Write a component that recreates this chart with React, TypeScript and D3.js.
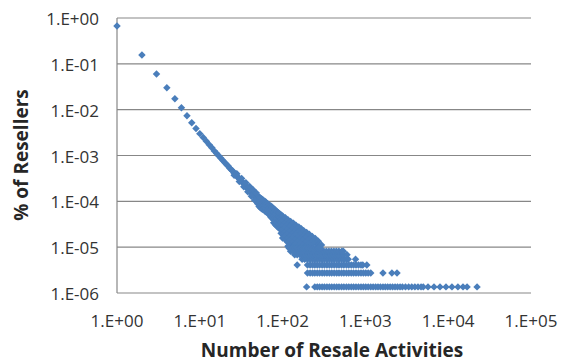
import React from 'react';
import * as d3 from 'd3';

// Axis ticks (decades)
const xTicks = [1, 10, 100, 1000, 10000, 100000];
const yTicks = [1, 0.1, 0.01, 0.001, 0.0001, 0.00001, 0.000001];

// Head of the distribution: one point per activity count
const headX = [1, 2, 3, 4, 5, 6, 7, 8, 9, 10, 11, 12, 13, 14, 15, 16, 17, 18, 19, 20];
const headY = [0.67, 0.155, 0.06, 0.03, 0.0174, 0.011, 0.0074, 0.0052, 0.0039, 0.003,
  0.00246, 0.00204, 0.00172, 0.00147, 0.00126, 0.0011, 0.00097, 0.00087, 0.00078, 0.0007];

// Band 21..50
const bandX = [21, 22, 23, 24, 25, 26, 27, 28, 29, 30, 31, 32, 33, 34, 35, 36, 37, 38, 39, 40,
  41, 42, 43, 44, 45, 46, 47, 48, 49, 50];
const bandY = [6.4e-4, 5.9e-4, 5.3e-4, 4.9e-4, 4.6e-4, 4.1e-4, 3.9e-4, 3.5e-4, 3.4e-4, 3.1e-4,
  2.95e-4, 2.7e-4, 2.6e-4, 2.4e-4, 2.35e-4, 2.1e-4, 2.05e-4, 1.85e-4, 1.9e-4, 1.7e-4,
  1.65e-4, 1.6e-4, 1.45e-4, 1.5e-4, 1.35e-4, 1.4e-4, 1.2e-4, 1.3e-4, 1.1e-4, 1.15e-4];
const band2X = [26, 28, 30, 32, 34, 36, 38, 40, 42, 44, 46, 48, 50];
const band2Y = [3.7e-4, 4.02e-4, 2.72e-4, 3.15e-4, 2.07e-4, 2.55e-4, 1.62e-4, 2.11e-4, 1.29e-4, 1.78e-4, 1.05e-4, 1.53e-4, 8.9e-5];

// Widening cloud 52..295: several values per activity count
const colX = [52, 54, 56, 58, 61, 63, 66, 69, 72, 75, 78, 82, 85, 89, 92, 96,
  100, 108, 116, 125, 135, 145, 157, 168, 180, 195, 210, 228, 248, 270, 295];
const colY = [
  [1.26e-4, 1.07e-4, 9.12e-5, 7.76e-5],
  [1.175e-4, 1.0e-4, 8.51e-5, 7.24e-5],
  [1.12e-4, 9.55e-5, 8.13e-5, 6.92e-5],
  [1.07e-4, 9.12e-5, 7.76e-5, 6.61e-5],
  [1.0e-4, 8.51e-5, 7.24e-5, 6.17e-5],
  [9.55e-5, 8.13e-5, 6.92e-5, 5.89e-5],
  [8.91e-5, 7.59e-5, 6.46e-5, 5.5e-5],
  [8.32e-5, 7.08e-5, 6.03e-5, 5.13e-5],
  [7.94e-5, 6.61e-5, 5.5e-5, 4.57e-5],
  [7.41e-5, 6.17e-5, 5.13e-5, 4.27e-5],
  [6.92e-5, 5.75e-5, 4.79e-5, 3.98e-5, 3.39e-5],
  [6.46e-5, 5.37e-5, 4.47e-5, 3.72e-5, 3.09e-5],
  [6.03e-5, 5.01e-5, 4.17e-5, 3.47e-5, 2.88e-5],
  [5.62e-5, 4.68e-5, 3.89e-5, 3.24e-5, 2.69e-5],
  [5.37e-5, 4.47e-5, 3.72e-5, 3.09e-5, 2.51e-5],
  [5.01e-5, 4.17e-5, 3.47e-5, 2.88e-5, 2.4e-5, 2.0e-5],
  [4.79e-5, 3.8e-5, 3.02e-5, 2.4e-5, 1.91e-5, 1.58e-5],
  [4.37e-5, 3.47e-5, 2.75e-5, 2.19e-5, 1.74e-5, 1.45e-5],
  [3.98e-5, 3.16e-5, 2.51e-5, 2.0e-5, 1.58e-5, 1.26e-5, 1.05e-5],
  [3.63e-5, 2.88e-5, 2.29e-5, 1.82e-5, 1.45e-5, 1.15e-5, 9.5e-6],
  [3.31e-5, 2.63e-5, 2.09e-5, 1.66e-5, 1.32e-5, 1.05e-5],
  [3.02e-5, 2.4e-5, 1.91e-5, 1.51e-5, 1.2e-5],
  [2.75e-5, 2.19e-5, 1.74e-5, 1.38e-5, 1.1e-5],
  [2.51e-5, 2.0e-5, 1.58e-5, 1.26e-5],
  [2.29e-5, 1.82e-5, 1.45e-5, 1.15e-5],
  [2.09e-5, 1.66e-5, 1.32e-5, 1.07e-5],
  [1.91e-5, 1.51e-5, 1.2e-5],
  [1.7e-5, 1.38e-5, 1.15e-5],
  [1.55e-5, 1.26e-5],
  [1.35e-5, 1.12e-5],
  [1.12e-5],
];

// Discrete rows in the tail (1, 2, 3 ... resellers)
const rowY = [1.36e-6, 2.72e-6, 4.08e-6, 5.44e-6, 6.8e-6, 8.16e-6, 9.52e-6];
const rowX = [
  [195, 245, 262, 280, 300, 320, 343, 367, 392, 420, 450, 480, 515, 550, 590, 630, 675, 720, 770, 825,
    885, 945, 1010, 1080, 1160, 1240, 1330, 1420, 1520, 1630, 1740, 1860, 1990, 2130, 2280, 2440, 2620,
    2800, 3050, 3330, 3630, 3960, 4320, 4700, 5000, 5700, 6740, 7960, 9400, 11100, 13100, 15100, 16900, 22300],
  [200, 215, 230, 245, 262, 280, 300, 320, 343, 367, 392, 420, 450, 480, 515, 550, 590, 630, 675, 720,
    770, 825, 885, 945, 1010, 1080, 1160, 1630, 2090, 2410],
  [150, 200, 215, 230, 245, 262, 280, 300, 320, 343, 367, 392, 420, 450, 480, 515, 550, 590, 630, 675,
    720, 770, 825, 885, 930, 1040],
  [172, 185, 200, 215, 230, 245, 262, 280, 300, 320, 343, 367, 392, 420, 450, 480, 515, 550, 590, 620, 760],
  [140, 150, 162, 175, 188, 202, 217, 233, 250, 268, 287, 307, 330, 353, 378, 405, 435, 465, 500, 540, 600],
  [125, 135, 145, 157, 168, 180, 193, 207, 222, 238, 255, 273, 293, 315, 338, 362, 388, 416, 446, 478, 520, 540],
  [120, 130, 140, 150, 162, 175, 188, 202, 217, 233, 250, 268, 287],
];

const xTitle = 'Number of Resale Activities';
const yTitle = '% of Resellers';

const fmt = (v: number) => {
  const e = Math.round(Math.log10(v));
  return `1.E${e < 0 ? '-' : '+'}${String(Math.abs(e)).padStart(2, '0')}`;
};

export default function App() {
  const W = 561, H = 362;
  const left = 117, right = 531, top = 18, bottom = 293;
  const x = d3.scaleLog().domain([1, 1e5]).range([left, right]);
  const y = d3.scaleLog().domain([1e-6, 1]).range([bottom, top]);

  const points: [number, number][] = [];
  headX.forEach((v, i) => points.push([v, headY[i]]));
  bandX.forEach((v, i) => points.push([v, bandY[i]]));
  band2X.forEach((v, i) => points.push([v, band2Y[i]]));
  colX.forEach((v, i) => colY[i].forEach((yy) => points.push([v, yy])));
  rowY.forEach((yy, k) => rowX[k].forEach((v) => points.push([v, yy])));

  const diamond = d3.symbol(d3.symbolSquare, 28)() as string;
  const grid = '#878787';
  const font = '"Open Sans", sans-serif';

  return (
    <svg width={W} height={H} style={{ position: 'absolute', left: 0, top: 0, background: '#fff' }}>
      <rect x={0} y={0} width={W} height={H} fill="#fff" />
      {yTicks.map((t) => (
        <line key={'g' + t} x1={left} x2={right} y1={y(t)} y2={y(t)} stroke={grid} strokeWidth={1.2} />
      ))}
      <line x1={left} x2={left} y1={top} y2={bottom} stroke={grid} strokeWidth={1.2} />
      {yTicks.map((t) => (
        <text key={'yl' + t} x={99} y={y(t)} dy={7} textAnchor="end" fontFamily={font} fontSize={17} fill="#333">
          {fmt(t)}
        </text>
      ))}
      {xTicks.map((t) => (
        <text key={'xl' + t} x={x(t)} y={327} textAnchor="middle" fontFamily={font} fontSize={17} fill="#333">
          {fmt(t)}
        </text>
      ))}
      <g fill="#4A7EBB">
        {points.map(([a, b], i) => (
          <path key={i} d={diamond} transform={`translate(${x(a)},${y(b)}) rotate(45)`} />
        ))}
      </g>
      <text x={332} y={357} textAnchor="middle" fontFamily={font} fontSize={19} fontWeight="bold" fill="#262626">
        {xTitle}
      </text>
      <text transform={`translate(28,155) rotate(-90)`} textAnchor="middle" fontFamily={font} fontSize={19} fontWeight="bold" fill="#262626">
        {yTitle}
      </text>
    </svg>
  );
}
